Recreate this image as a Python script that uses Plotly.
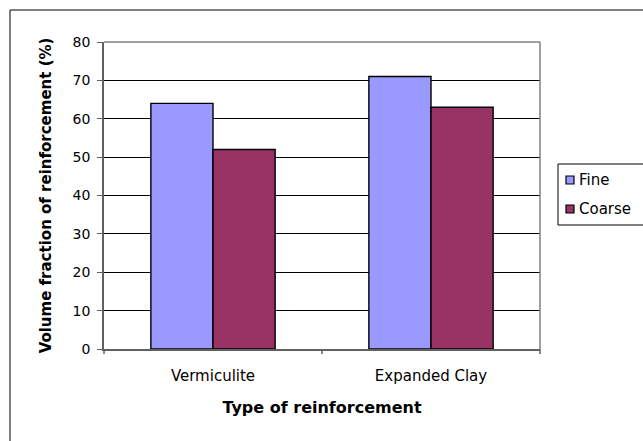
import plotly.graph_objects as go

# Volume fraction of reinforcement by type and particle size
categories = ["Vermiculite", "Expanded Clay"]
fine_values = [64, 71]
coarse_values = [52, 63]
series_names = ["Fine", "Coarse"]
series_colors = ["#9999FF", "#993366"]
y_ticks = [0, 10, 20, 30, 40, 50, 60, 70, 80]

W, H = 643, 441
L, R, T, B = 104, 103, 42, 92
pw, ph = W - L - R, H - T - B


def px_x(px):
    return (px - L) / pw


def px_y(py):
    return (H - B - py) / ph


FAM = "DejaVu Sans, Arial, sans-serif"
font = dict(family=FAM, size=14, color="black")

fig = go.Figure()
for name, vals, col in zip(series_names, [fine_values, coarse_values], series_colors):
    fig.add_trace(go.Bar(
        x=categories, y=vals, name=name, showlegend=False,
        marker=dict(color=col, line=dict(color="black", width=1.4)),
    ))

shapes = [
    # outer chart frame
    dict(type="rect", xref="paper", yref="paper",
         x0=px_x(10), x1=px_x(700), y0=px_y(500), y1=px_y(10),
         line=dict(color="black", width=1), layer="below"),
    # plot area frame (top/right)
    dict(type="line", xref="paper", yref="paper", x0=0, x1=1, y0=1, y1=1,
         line=dict(color="#808080", width=1.5)),
    dict(type="line", xref="paper", yref="paper", x0=1, x1=1, y0=0, y1=1,
         line=dict(color="#808080", width=1.5)),
]
# category boundary ticks on x axis
for xp in (0, 0.5, 1):
    shapes.append(dict(type="line", xref="paper", yref="paper", x0=xp, x1=xp,
                       y0=0, y1=px_y(H - B + 5), line=dict(color="#606060", width=1.5)))

# legend box with square keys
shapes.append(dict(type="rect", xref="paper", yref="paper",
                   x0=px_x(558), x1=px_x(700), y0=px_y(225), y1=px_y(164),
                   line=dict(color="black", width=1), fillcolor="white"))
annotations = []
for i, (name, col) in enumerate(zip(series_names, series_colors)):
    cy = 180 + 29 * i
    shapes.append(dict(type="rect", xref="paper", yref="paper",
                       x0=px_x(566), x1=px_x(574), y0=px_y(cy + 4), y1=px_y(cy - 4),
                       line=dict(color="black", width=1.2), fillcolor=col))
    annotations.append(dict(text=name, xref="paper", yref="paper",
                            x=px_x(577), y=px_y(cy), xanchor="left", yanchor="middle",
                            showarrow=False, font=dict(size=15)))

fig.update_layout(
    width=W, height=H,
    margin=dict(l=L, r=R, t=T, b=B, autoexpand=False),
    paper_bgcolor="white", plot_bgcolor="white",
    font=font, showlegend=False,
    barmode="group", bargap=0.43, bargroupgap=0,
    xaxis=dict(
        showgrid=False, showline=True, linecolor="#606060", linewidth=1.5,
        ticks="", tickfont=dict(size=15), ticklabelstandoff=12,
        title=dict(text="<b>Type of reinforcement</b>", font=dict(size=16), standoff=18),
        automargin=False,
    ),
    yaxis=dict(
        range=[0, 80], tickvals=y_ticks, showgrid=True, gridcolor="black", gridwidth=1,
        showline=True, linecolor="#606060", linewidth=1.7,
        ticks="outside", ticklen=5, tickcolor="#606060", tickfont=dict(size=14),
        ticklabelstandoff=4,
        title=dict(text="<b>Volume fraction of reinforcement (%)</b>", font=dict(size=15), standoff=17),
        zeroline=False, automargin=False,
    ),
    shapes=shapes,
    annotations=annotations,
)

fig.write_html("out.html")
